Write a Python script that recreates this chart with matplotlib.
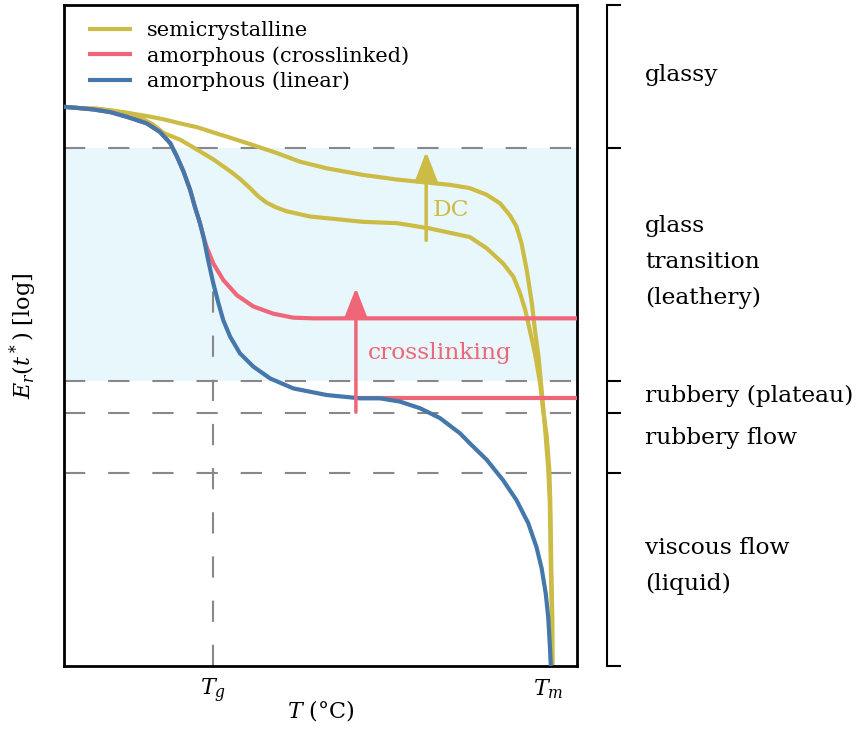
import matplotlib
matplotlib.use("Agg")
import matplotlib.pyplot as plt

plt.rcParams["font.family"] = ["DejaVu Serif"]
plt.rcParams["mathtext.fontset"] = "dejavuserif"

YELLOW = "#CCBB44"
RED = "#EE6677"
BLUE = "#4477AA"
GRAY = "#888888"
BAND = "#66CCEE"

# temperature (arbitrary units) / log modulus (arbitrary units)
linear_T = [0, 3.1, 5.7, 9.0, 12.2, 16.1, 18.7, 20.7, 22.0, 23.3, 24.6, 25.5, 26.5, 27.2,
            28.1, 29.1, 30.1, 31.05, 32.4, 34.3, 36.9, 40.2, 44.7, 51.2, 57.7, 61.6, 65.5,
            69.4, 73.3, 77.2, 79.1, 82.4, 85.6, 88.2, 90.5, 92.1, 93.1, 93.9, 94.4, 94.7, 94.9]
linear_E = [84.6, 84.4, 84.2, 83.8, 83.1, 82.1, 80.8, 79.1, 77.1, 74.8, 72.0, 69.5, 67.0, 64.9,
            61.4, 57.9, 54.9, 52.3, 49.8, 47.3, 45.3, 43.5, 42.0, 41.0, 40.5, 40.5, 40.0,
            39.0, 37.5, 35.2, 33.7, 31.2, 28.1, 25.1, 21.6, 18.0, 14.8, 11.0, 7.3, 3.2, 0]

xlink_T = [0, 3.1, 5.7, 9.0, 12.2, 16.1, 18.7, 20.7, 22.0, 23.3, 24.6, 25.5, 26.5, 27.2,
           27.8, 29.1, 31.05, 33.7, 36.9, 40.8, 44.7, 48.6, 100]
xlink_E = [84.6, 84.4, 84.2, 83.8, 83.1, 82.1, 80.8, 79.1, 77.1, 74.8, 72.0, 69.5, 67.0, 64.9,
           63.4, 60.9, 58.4, 56.1, 54.4, 53.3, 52.7, 52.6, 52.6]
xlink_plateau_T = [56.7, 100]
xlink_plateau_E = [40.5, 40.5]

semi_hi_T = [0, 3.1, 6.5, 9.6, 13.0, 16.2, 19.5, 22.6, 26.0, 29.2, 32.5, 36.9, 41.5, 46.0,
             51.2, 58.3, 64.9, 71.3, 75.2, 79.1, 82.4, 85.0, 86.9, 88.2, 89.2, 90.2, 91.2,
             91.8, 92.5, 93.1, 93.8, 94.4, 94.7, 94.9, 95.1, 95.2]
semi_hi_E = [84.6, 84.4, 84.3, 84.0, 83.6, 83.2, 82.7, 82.1, 81.5, 80.7, 79.9, 78.8, 77.6, 76.3,
             75.3, 74.3, 73.6, 73.1, 72.8, 72.3, 71.3, 70.0, 68.2, 66.5, 63.9, 59.9, 54.9,
             50.8, 46.8, 41.8, 35.7, 29.7, 24.6, 14.5, 7.0, 0]
semi_lo_T = [0, 3.1, 6.5, 9.6, 13.0, 15.0, 17.2, 19.5, 22.7, 26.0, 29.2, 32.5, 34.3, 36.4,
             37.8, 39.5, 41.3, 43.4, 48.0, 51.9, 58.3, 64.9, 71.3, 79.1, 82.4, 85.6, 87.6,
             88.9, 89.9, 90.8, 91.8, 92.8, 93.4, 94.1, 94.6, 94.8, 95.0, 95.2, 95.2]
semi_lo_E = [84.6, 84.4, 84.3, 84.0, 83.6, 82.9, 82.0, 80.6, 79.6, 78.1, 76.6, 74.8, 73.7, 72.2,
             71.1, 70.1, 69.4, 68.8, 68.0, 67.7, 67.2, 67.0, 66.2, 64.9, 63.2, 60.9, 58.9,
             56.4, 53.9, 50.8, 47.3, 42.8, 38.7, 34.7, 29.7, 24.7, 14.5, 7.0, 0]

# region boundaries (log modulus) and regions
bounds = [100, 78.4, 43.1, 38.3, 29.2, 0]
regions = ["glassy", "glass\ntransition\n(leathery)", "rubbery (plateau)",
           "rubbery flow", "viscous flow\n(liquid)"]
region_mid = [89.4, 61.1, 40.8, 34.5, 15.1]

Tg, Tm = 29.0, 94.3
Tg_top = 57.0
xlink_arrow = (56.9, 38.4, 57.2)
dc_arrow = (70.6, 64.4, 77.8)

fig = plt.figure(figsize=(8.58, 7.29), dpi=100)
ax = fig.add_axes([0.0746, 0.0864, 0.5979, 0.9067])
ax.set_xlim(0, 100)
ax.set_ylim(0, 100)

ax.axhspan(bounds[2], bounds[1], color=BAND, alpha=0.15, lw=0, zorder=0)
for b in bounds[1:-1]:
    ax.axhline(b, color=GRAY, lw=1.5, dashes=(10.2, 11), zorder=1)
ax.plot([Tg, Tg], [0, Tg_top], color=GRAY, lw=1.5, dashes=(10.2, 11), zorder=1)

kw = dict(lw=3, solid_capstyle="butt", solid_joinstyle="round")
ax.plot(semi_lo_T, semi_lo_E, color=YELLOW, zorder=2, **kw)
ax.plot(semi_hi_T, semi_hi_E, color=YELLOW, zorder=2, label="semicrystalline", **kw)
ax.plot(xlink_T, xlink_E, color=RED, zorder=3, label="amorphous (crosslinked)", **kw)
ax.plot(xlink_plateau_T, xlink_plateau_E, color=RED, zorder=3, **kw)
ax.plot(linear_T, linear_E, color=BLUE, zorder=4, label="amorphous (linear)", **kw)

arrow = "-|>,head_length=0.9,head_width=0.35"
ax.annotate("", xy=(xlink_arrow[0], xlink_arrow[2]), xytext=(xlink_arrow[0], xlink_arrow[1]),
            arrowprops=dict(arrowstyle=arrow, color=RED, lw=2.5, mutation_scale=20,
                            shrinkA=0, shrinkB=0), zorder=5)
ax.annotate("", xy=(dc_arrow[0], dc_arrow[2]), xytext=(dc_arrow[0], dc_arrow[1]),
            arrowprops=dict(arrowstyle=arrow, color=YELLOW, lw=2.5, mutation_scale=20,
                            shrinkA=0, shrinkB=0), zorder=5)
ax.text(59.3, 47.4, "crosslinking", color=RED, fontsize=16.8, va="center", ha="left")
ax.text(71.9, 69.0, "DC", color=YELLOW, fontsize=16.8, va="center", ha="left")

ax.legend(loc="upper left", bbox_to_anchor=(0.031, 0.988), frameon=False, fontsize=15,
          handlelength=2.1, handletextpad=0.72, labelspacing=0.27, borderaxespad=0)

ax.set_xticks([Tg, Tm])
ax.set_xticklabels(["$T_g$", "$T_m$"], fontsize=16)
ax.set_yticks([])
ax.tick_params(axis="x", length=0, pad=8)
ax.set_xlabel("$T$ (°C)", fontsize=16, labelpad=-5)
ax.set_ylabel("$E_r(t^*)$ [log]", fontsize=16, labelpad=18)
for s in ax.spines.values():
    s.set_linewidth(2)

# bracket of regions on the right
ax2 = fig.add_axes([0.7075, 0.0864, 0.28, 0.9067])
ax2.set_xlim(0, 1)
ax2.set_ylim(0, 100)
for k in ["top", "right", "bottom"]:
    ax2.spines[k].set_visible(False)
ax2.spines["left"].set_linewidth(1.5)
ax2.set_xticks([])
ax2.set_yticks(bounds)
ax2.set_yticklabels([])
ax2.tick_params(axis="y", direction="in", length=10, width=1.5)
ax2.patch.set_alpha(0)
for name, ym in zip(regions, region_mid):
    ax2.text(0.158, ym, name, fontsize=16.8, va="center", ha="left", linespacing=1.8)

fig.savefig("out.png", dpi=100)
